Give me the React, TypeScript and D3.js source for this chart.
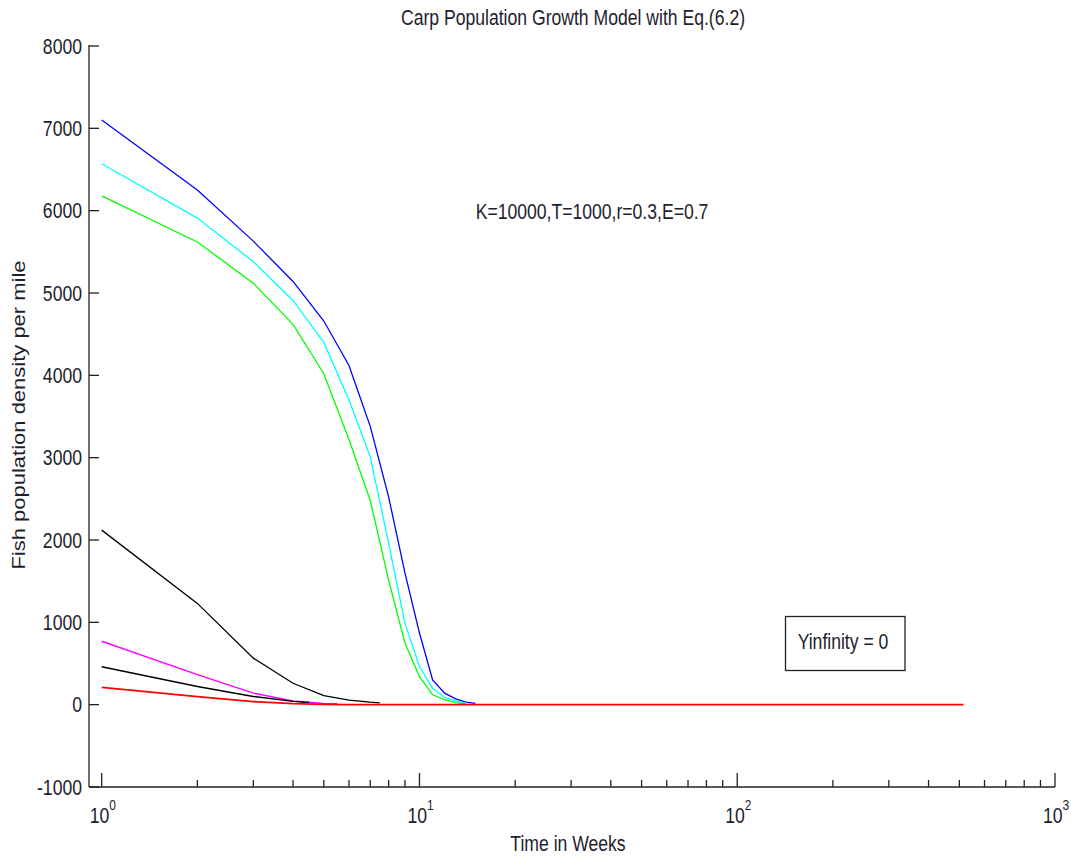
import React from 'react';
import * as d3 from 'd3';

// time (weeks) and population values
const blueWeeks = [1, 2, 3, 4, 5, 6, 7, 8, 9, 10, 11, 12, 13, 14, 15];
const blueValues = [7100, 6250, 5630, 5140, 4660, 4120, 3380, 2520, 1600, 870, 300, 140, 70, 30, 15];

const cyanWeeks = [1, 2, 3, 4, 5, 6, 7, 8, 9, 10, 11, 12, 13, 14];
const cyanValues = [6570, 5910, 5380, 4910, 4400, 3700, 3010, 1960, 990, 460, 200, 90, 45, 20];

const greenWeeks = [1, 2, 3, 4, 5, 6, 7, 8, 9, 10, 11, 12, 13, 14];
const greenValues = [6180, 5620, 5120, 4620, 4020, 3220, 2480, 1510, 750, 340, 120, 60, 25, 10];

const blackHighWeeks = [1, 2, 3, 4, 5, 6, 7, 7.5];
const blackHighValues = [2120, 1230, 565, 260, 110, 55, 30, 22];

const magentaWeeks = [1, 2, 3, 4, 5, 5.5];
const magentaValues = [770, 365, 140, 45, 15, 10];

const blackLowWeeks = [1, 2, 3, 4, 4.5];
const blackLowValues = [460, 220, 100, 40, 25];

const redWeeks = [1, 2, 3, 4, 5, 6, 515];
const redValues = [210, 97, 37, 12, 4, 1, 0];

const yTicks = [-1000, 0, 1000, 2000, 3000, 4000, 5000, 6000, 7000, 8000];
const xDecades = [0, 1, 2, 3];

const title = 'Carp Population Growth Model with Eq.(6.2)';
const xTitle = 'Time in Weeks';
const yTitle = 'Fish population density per mile';
const paramsText = 'K=10000,T=1000,r=0.3,E=0.7';
const boxText = 'Yinfinity = 0';

const series = [
  { weeks: blueWeeks, values: blueValues, color: '#0000ff', width: 1.3 },
  { weeks: cyanWeeks, values: cyanValues, color: '#00ffff', width: 1.3 },
  { weeks: greenWeeks, values: greenValues, color: '#00ff00', width: 1.3 },
  { weeks: blackHighWeeks, values: blackHighValues, color: '#000000', width: 1.3 },
  { weeks: magentaWeeks, values: magentaValues, color: '#ff00ff', width: 1.5 },
  { weeks: blackLowWeeks, values: blackLowValues, color: '#000000', width: 1.5 },
  { weeks: redWeeks, values: redValues, color: '#ff0000', width: 1.8 },
];

const FONT = '"Liberation Sans", Arial, sans-serif';
const INK = '#1e1e2e';
const SQUEEZE = 0.8; // text in the picture is narrow

// horizontally squeezed text
function Narrow(props: { x: number; y: number; anchor?: string; size: number; children: React.ReactNode; dy?: string }) {
  return (
    <text transform={`translate(${props.x},${props.y}) scale(${SQUEEZE},1)`}
      dy={props.dy} textAnchor={props.anchor || 'start'} fontSize={props.size} fill={INK}>
      {props.children}
    </text>
  );
}

export default function App() {
  const width = 1071;
  const height = 859;
  const left = 89, right = 1055, top = 46, bottom = 787;

  const x = d3.scaleLog().domain([0.912, 1000]).range([left, right]);
  const y = d3.scaleLinear().domain([-1000, 8000]).range([bottom, top]);

  const line = d3.line<[number, number]>()
    .x(d => x(d[0]))
    .y(d => y(d[1]));

  // minor ticks 2..9 for each decade
  const minorTicks: number[] = [];
  [1, 10, 100].forEach(base => {
    for (let k = 2; k <= 9; k++) minorTicks.push(base * k);
  });

  return (
    <svg width={width} height={height}
      style={{ position: 'absolute', left: 0, top: 0, background: '#fff' }}
      fontFamily={FONT}>
      <rect x={0} y={0} width={width} height={height} fill="#fff" />

      {/* title */}
      <Narrow x={573} y={25} anchor="middle" size={22}>{title}</Narrow>

      {/* axes lines */}
      <line x1={left} y1={top - 1} x2={left} y2={bottom} stroke="#222" strokeWidth={1.3} />
      <line x1={left} y1={bottom} x2={right} y2={bottom} stroke="#222" strokeWidth={1.3} />

      {/* y ticks */}
      {yTicks.map(t => (
        <g key={'y' + t}>
          <line x1={left} x2={left + 10} y1={y(t)} y2={y(t)} stroke="#222" strokeWidth={1.3} />
          <Narrow x={82} y={y(t)} dy="0.35em" anchor="end" size={22}>{t}</Narrow>
        </g>
      ))}

      {/* x ticks */}
      {xDecades.map(p => {
        const v = Math.pow(10, p);
        return (
          <g key={'x' + p}>
            <line x1={x(v)} x2={x(v)} y1={bottom} y2={bottom - 14} stroke="#222" strokeWidth={1.3} />
            <Narrow x={x(v) - 12} y={823} size={22}>
              10<tspan dy={-13} fontSize={15}>{p}</tspan>
            </Narrow>
          </g>
        );
      })}
      {minorTicks.map(v => (
        <line key={'m' + v} x1={x(v)} x2={x(v)} y1={bottom} y2={bottom - 7} stroke="#222" strokeWidth={1.3} />
      ))}

      {/* axis titles */}
      <Narrow x={568} y={851} anchor="middle" size={22}>{xTitle}</Narrow>
      <text transform={`translate(25,415) rotate(-90) scale(1,${SQUEEZE})`} textAnchor="middle" fontSize={22} fill={INK}>{yTitle}</text>

      {/* curves */}
      {series.map((s, i) => (
        <path key={'s' + i}
          d={line(s.weeks.map((w, j) => [w, s.values[j]] as [number, number])) || ''}
          fill="none" stroke={s.color} strokeWidth={s.width} />
      ))}

      {/* annotations */}
      <Narrow x={592} y={211} dy="0.35em" anchor="middle" size={22}>{paramsText}</Narrow>
      <rect x={785.5} y={616.5} width={119.5} height={54} fill="#fff" stroke="#222" strokeWidth={1.3} />
      <Narrow x={843} y={641} dy="0.35em" anchor="middle" size={22}>{boxText}</Narrow>
    </svg>
  );
}
